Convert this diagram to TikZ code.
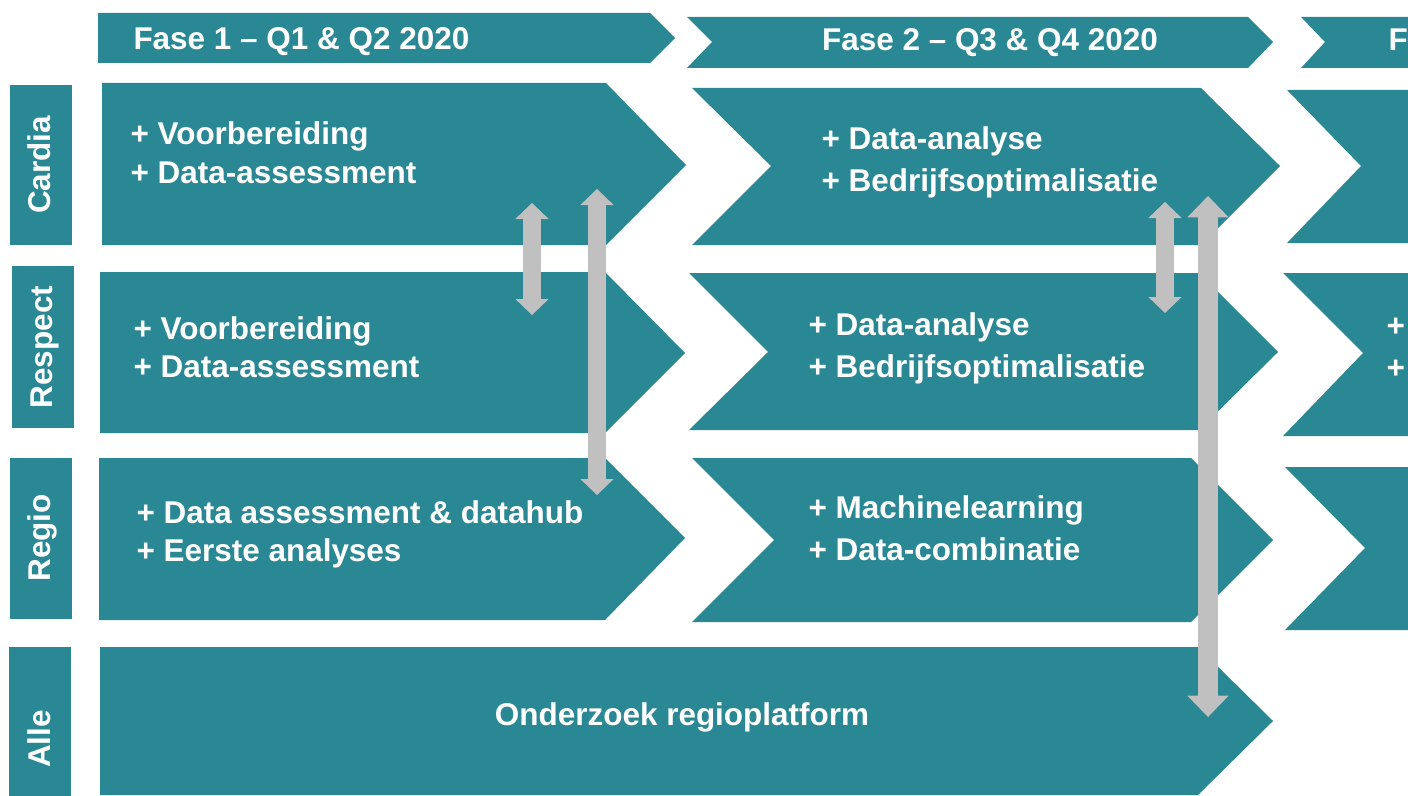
\documentclass[tikz,border=0pt]{standalone}
\usepackage{fontspec}
\setmainfont{Liberation Sans}
\usetikzlibrary{arrows.meta}

\tikzset{every picture/.style={line width=0.75pt}}
\tikzset{
  blok/.style={fill={rgb, 255:red, 41; green, 136; blue, 148 }, draw opacity=0},
  tekst/.style={text=white, inner sep=0.75pt, font=\fontsize{23.6}{30}\selectfont\bfseries},
  pijl/.style={draw={rgb, 255:red, 192; green, 192; blue, 192 }, line width=13pt,
    {Triangle[width=25pt,length=12pt,line width=0pt]}-{Triangle[width=25pt,length=12pt,line width=0pt]}},
  pijlgroot/.style={pijl, line width=15pt,
    {Triangle[width=31pt,length=16pt,line width=0pt]}-{Triangle[width=31pt,length=16pt,line width=0pt]}}
}

\begin{document}
\begin{tikzpicture}[x=0.75pt,y=0.75pt,yscale=-1,xscale=1]
\useasboundingbox (0,0) rectangle (1408,795);
\clip (0,0) rectangle (1408,795);

%Shape: Fase headers
\fill [blok] (98,13) -- (650,13) -- (675,38) -- (650,63) -- (98,63) -- cycle ;
\fill [blok] (687,17) -- (1248,17) -- (1273,42) -- (1248,68) -- (687,68) -- (712,42) -- cycle ;
\fill [blok] (1301,17) -- (1420,17) -- (1420,68) -- (1301,68) -- (1325,42) -- cycle ;

%Shape: Rij labels
\fill [blok] (10,85) rectangle (72,245) ;
\fill [blok] (12,266) rectangle (74,428) ;
\fill [blok] (10,458) rectangle (72,619) ;
\fill [blok] (9,647) rectangle (71,800) ;

%Shape: Fase 1 chevrons
\fill [blok] (102,83) -- (606,83) -- (686,165) -- (606,245) -- (102,245) -- cycle ;
\fill [blok] (100,272) -- (605,272) -- (685,353) -- (605,433) -- (100,433) -- cycle ;
\fill [blok] (99,458) -- (605,458) -- (685,538) -- (605,620) -- (99,620) -- cycle ;
%Shape: Alle chevron
\fill [blok] (100,647) -- (1198,647) -- (1273,721) -- (1198,795) -- (100,795) -- cycle ;

%Shape: Fase 2 chevrons
\fill [blok] (692,88) -- (1201,88) -- (1280,166) -- (1201,245) -- (692,245) -- (771,166) -- cycle ;
\fill [blok] (689,273) -- (1199,273) -- (1278,352) -- (1199,430) -- (689,430) -- (768,352) -- cycle ;
\fill [blok] (692,458) -- (1191,458) -- (1273,540) -- (1191,622) -- (692,622) -- (774,540) -- cycle ;

%Shape: Fase 3 chevrons
\fill [blok] (1287,90) -- (1420,90) -- (1420,243) -- (1287,243) -- (1361,166) -- cycle ;
\fill [blok] (1283,273) -- (1420,273) -- (1420,436) -- (1283,436) -- (1363,353) -- cycle ;
\fill [blok] (1285,467) -- (1420,467) -- (1420,630) -- (1285,630) -- (1365,548) -- cycle ;

% Text Node
\draw (132,50) node [tekst, anchor=base west] (kop1) {Fase 1 – Q1 \& Q2 2020};
% Text Node
\draw (990,51) node [tekst, anchor=base] (kop2) {Fase 2 – Q3 \& Q4 2020};
% Text Node
\draw (1387,51) node [tekst, anchor=base west] (kop3) {F};

% Text Node
\draw (50,165) node [tekst, anchor=base, rotate=90] (cardia) {Cardia};
% Text Node
\draw (52,347) node [tekst, anchor=base, rotate=90] (respect) {Respect};
% Text Node
\draw (50,538) node [tekst, anchor=base, rotate=90] (regio) {Regio};
% Text Node
\draw (50,739) node [tekst, anchor=base, rotate=90] (alle) {Alle};

% Text Node
\draw (129,145) node [tekst, anchor=base west] (cardia1a) {+ Voorbereiding};
\draw (129,183) node [tekst, anchor=base west] (cardia1b) {+ Data-assessment};
% Text Node
\draw (132,339) node [tekst, anchor=base west] (respect1a) {+ Voorbereiding};
\draw (132,377) node [tekst, anchor=base west] (respect1b) {+ Data-assessment};
% Text Node
\draw (135,523) node [tekst, anchor=base west] (regio1a) {+ Data assessment \& datahub};
\draw (135,561) node [tekst, anchor=base west] (regio1b) {+ Eerste analyses};

% Text Node
\draw (820,149) node [tekst, anchor=base west] (cardia2a) {+ Data-analyse};
\draw (820,191) node [tekst, anchor=base west] (cardia2b) {+ Bedrijfsoptimalisatie};
% Text Node
\draw (807,335) node [tekst, anchor=base west] (respect2a) {+ Data-analyse};
\draw (807,377) node [tekst, anchor=base west] (respect2b) {+ Bedrijfsoptimalisatie};
% Text Node
\draw (807,518) node [tekst, anchor=base west] (regio2a) {+ Machinelearning};
\draw (807,560) node [tekst, anchor=base west] (regio2b) {+ Data-combinatie};

% Text Node
\draw (1385,336) node [tekst, anchor=base west] (respect3a) {+};
\draw (1385,378) node [tekst, anchor=base west] (respect3b) {+};

% Text Node
\draw (682,725) node [tekst, anchor=base] (alletekst) {Onderzoek regioplatform};

%Koppelingen
\coordinate (k1boven) at (532,203);
\coordinate (k1onder) at (532,315);
\coordinate (k2boven) at (597,189);
\coordinate (k2onder) at (597,495);
\coordinate (k3boven) at (1165,202);
\coordinate (k3onder) at (1165,313);
\coordinate (k4boven) at (1208,196);
\coordinate (k4onder) at (1208,717);
\draw [pijl] (k1boven) -- (k1onder) ;
\draw [pijl] (k2boven) -- (k2onder) ;
\draw [pijl] (k3boven) -- (k3onder) ;
\draw [pijlgroot] (k4boven) -- (k4onder) ;

\end{tikzpicture}
\end{document}
